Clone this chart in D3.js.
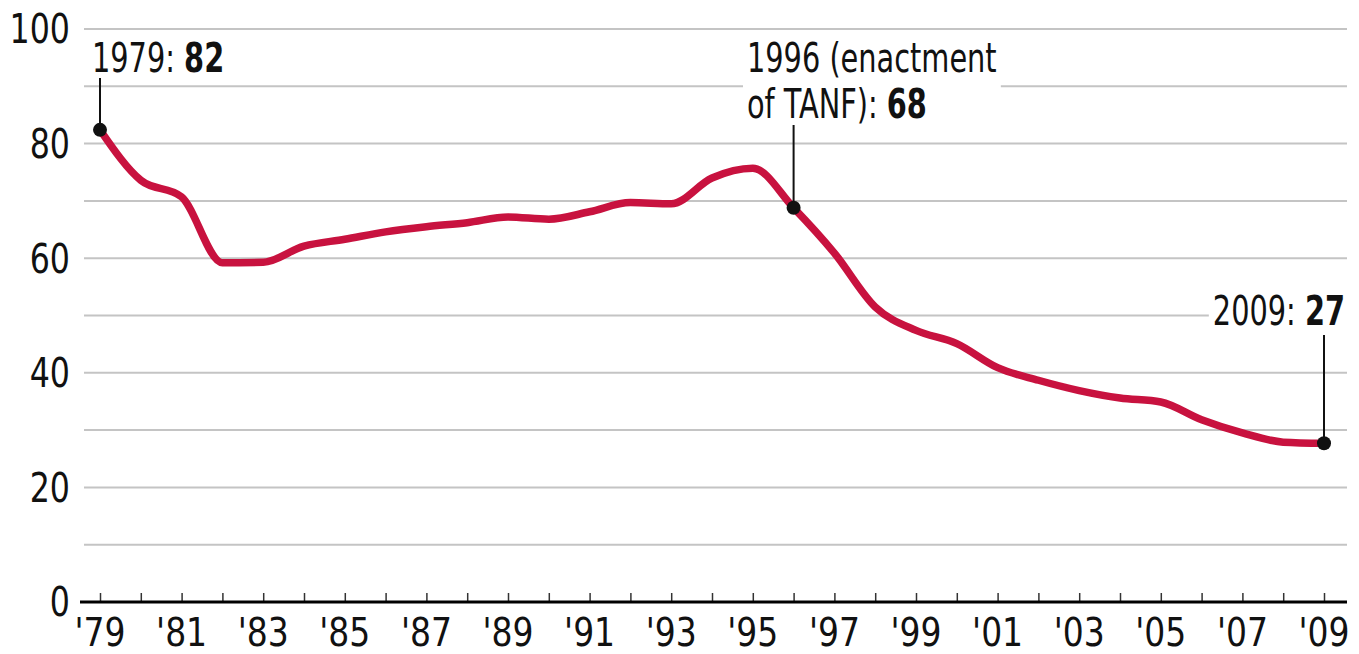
<meta charset="utf-8">
<style>
    body { margin: 0; background: #fff; }
    text { font-family: "Liberation Sans Narrow", "DejaVu Sans Condensed", "Roboto", sans-serif; }
</style>
<body>
<script src="https://cdn.jsdelivr.net/npm/d3@7"></script>
<script type="text/javascript">

    var years = [1979, 1980, 1981, 1982, 1983, 1984, 1985, 1986, 1987, 1988,
                 1989, 1990, 1991, 1992, 1993, 1994, 1995, 1996, 1997, 1998,
                 1999, 2000, 2001, 2002, 2003, 2004, 2005, 2006, 2007, 2008, 2009];

    var values = [82.4, 73.6, 70.7, 59.2, 59.3, 62.1, 63.3, 64.6, 65.5, 66.2,
                  67.2, 66.8, 68.1, 69.7, 69.5, 74.0, 75.7, 68.8, 60.9, 51.5,
                  47.4, 45.1, 40.9, 38.7, 36.9, 35.6, 34.9, 31.8, 29.5, 27.9, 27.7];

    var yTicks = [0, 20, 40, 60, 80, 100];
    var gridValues = [10, 20, 30, 40, 50, 60, 70, 80, 90, 100];
    var xLabelYears = [1979, 1981, 1983, 1985, 1987, 1989, 1991, 1993, 1995,
                       1997, 1999, 2001, 2003, 2005, 2007, 2009];

    var notes = [
        {year: 1979, lines: [["1979: ", "82"]]},
        {year: 1996, lines: [["1996 (enactment", ""], ["of TANF): ", "68"]]},
        {year: 2009, lines: [["2009: ", "27"]]}
    ];

    var width  = 1359,
        height = 654;

    var svg = d3.select("body")
                .append("svg")
                .attr("width", width)
                .attr("height", height);

    var x = d3.scaleLinear().domain([1979, 2009]).range([100, 1324]);
    var y = d3.scaleLinear().domain([0, 100]).range([602, 29]);

    var data = years.map(function (yr, i) {
        return {year: yr, value: values[i]};
    });

    // the fallback font is wider than the original condensed face
    function squeeze(tx, ty, s) {
        return "translate(" + tx + "," + ty + ") scale(" + s + ",1)";
    }

    // gridlines
    svg.selectAll(".grid")
       .data(gridValues)
       .enter()
       .append("line")
       .attr("class", "grid")
       .attr("x1", 84)
       .attr("x2", 1347)
       .attr("y1", function (d) { return y(d); })
       .attr("y2", function (d) { return y(d); })
       .attr("stroke", "#c4c4c4")
       .attr("stroke-width", 2);

    // y labels
    svg.selectAll(".ylab")
       .data(yTicks)
       .enter()
       .append("text")
       .attr("class", "ylab")
       .attr("transform", function (d) { return squeeze(70, y(d), 0.88); })
       .attr("dy", "0.36em")
       .attr("text-anchor", "end")
       .attr("font-size", 40)
       .attr("fill", "#111")
       .text(function (d) { return d; });

    // x axis
    var xAxis = d3.axisTop(x)
                  .tickValues(years)
                  .tickSize(9)
                  .tickFormat("");

    var gx = svg.append("g")
                .attr("transform", "translate(0," + y(0) + ")")
                .call(xAxis);
    gx.select(".domain").remove();
    gx.selectAll(".tick line").attr("stroke", "#333").attr("stroke-width", 1.5);

    svg.append("line")
       .attr("x1", 80)
       .attr("x2", 1347)
       .attr("y1", y(0))
       .attr("y2", y(0))
       .attr("stroke", "#000")
       .attr("stroke-width", 3);

    svg.selectAll(".xlab")
       .data(xLabelYears)
       .enter()
       .append("text")
       .attr("class", "xlab")
       .attr("transform", function (d) { return squeeze(x(d), 646, 0.94); })
       .attr("text-anchor", "middle")
       .attr("font-size", 39)
       .attr("fill", "#111")
       .text(function (d) { return "'" + String(d).slice(2); });

    // line
    var line = d3.line()
                 .x(function (d) { return x(d.year); })
                 .y(function (d) { return y(d.value); })
                 .curve(d3.curveMonotoneX);

    svg.append("path")
       .datum(data)
       .attr("d", line)
       .attr("fill", "none")
       .attr("stroke", "#c8123f")
       .attr("stroke-width", 7.5)
       .attr("stroke-linejoin", "round")
       .attr("stroke-linecap", "round");

    // annotations
    var layout = {
        1979: {tx: 92,   ty: 72,  anchor: "start", top: 78},
        1996: {tx: 747,  ty: 72,  anchor: "start", top: 125},
        2009: {tx: 1345, ty: 325, anchor: "end",   top: 335}
    };

    notes.forEach(function (n) {
        var L = layout[n.year];
        var d = data[years.indexOf(n.year)];
        var g = svg.append("g");
        var lab = g.append("g").attr("transform", squeeze(L.tx, L.ty, 0.8));

        var t = lab.append("text")
                   .attr("font-size", 40)
                   .attr("fill", "#111")
                   .attr("text-anchor", L.anchor);

        n.lines.forEach(function (ln, i) {
            t.append("tspan")
             .attr("x", 0)
             .attr("y", i * 46)
             .text(ln[0]);
            if (ln[1]) {
                t.append("tspan").attr("font-weight", "bold").text(ln[1]);
            }
        });

        var bb = t.node().getBBox();
        lab.insert("rect", "text")
           .attr("x", bb.x - 5)
           .attr("y", bb.y + 4)
           .attr("width", bb.width + 10)
           .attr("height", bb.height - 6)
           .attr("fill", "#fff");

        g.append("line")
         .attr("x1", x(d.year))
         .attr("x2", x(d.year))
         .attr("y1", L.top)
         .attr("y2", y(d.value))
         .attr("stroke", "#111")
         .attr("stroke-width", 2);

        g.append("circle")
         .attr("cx", x(d.year))
         .attr("cy", y(d.value))
         .attr("r", 7)
         .attr("fill", "#111");
    });

</script>
</body>
